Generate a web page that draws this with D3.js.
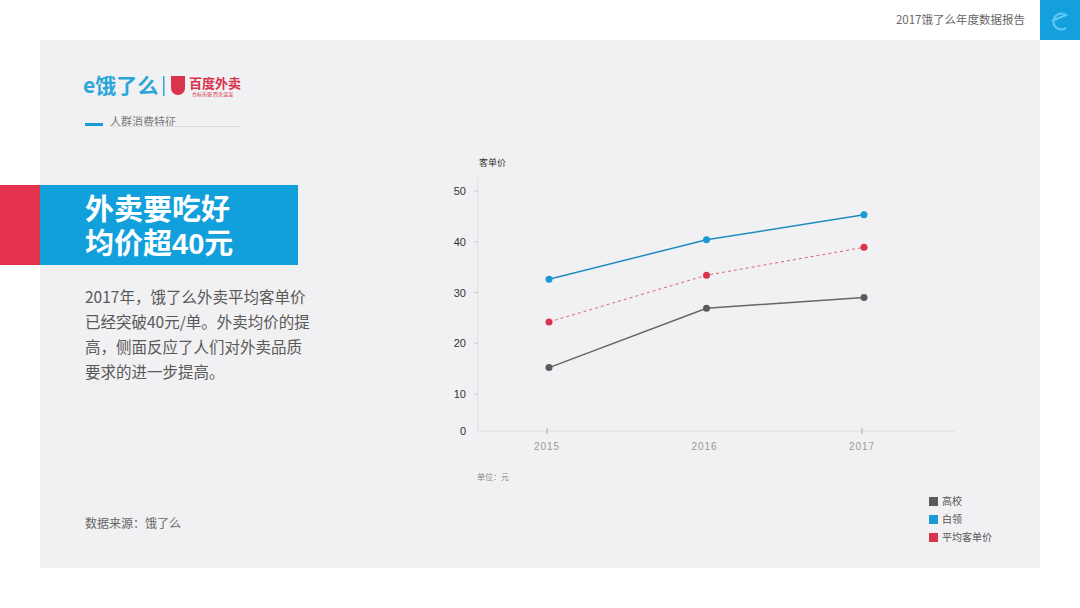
<!DOCTYPE html>
<html><head><meta charset="utf-8">
<script src="https://cdn.jsdelivr.net/npm/d3@7"></script>
<style>body{margin:0;background:#fff;}svg{display:block;font-family:"Noto Sans CJK SC","Noto Sans",sans-serif;}</style>
</head><body><svg id="c" width="1080" height="608"></svg>
<script>
const years = ["2015","2016","2017"];
const seriesNames = ["高校","白领","平均客单价"];
const gaoxiao = [15.2, 26.9, 29.0];
const bailing = [32.6, 40.4, 45.3];
const average = [24.2, 33.4, 38.9];
const yTicks = [0,10,20,30,40,50];
const colors = ["#5b5b5f","#1a9ad6","#d9334e"];
const titleLines = ["外卖要吃好","均价超40元"];
const bodyLines = ["2017年，饿了么外卖平均客单价","已经突破40元/单。外卖均价的提","高，侧面反应了人们对外卖品质","要求的进一步提高。"];

const svg = d3.select("#c");
// background panel
svg.append("rect").attr("x",40).attr("y",40).attr("width",1000).attr("height",528).attr("fill","#f1f0f2");
// header
svg.append("text").attr("x",1025).attr("y",24).attr("text-anchor","end").attr("font-size",11.5).attr("fill","#666").text("2017饿了么年度数据报告");
svg.append("rect").attr("x",1040).attr("y",0).attr("width",40).attr("height",40).attr("fill","#14a0dc");
svg.append("path").attr("d","M1052,21 L1066,15 A8,8 0 1 0 1066,28").attr("fill","none").attr("stroke","#5cc8f5").attr("stroke-width",2.2);

// logos
svg.append("text").attr("x",83).attr("y",93).attr("font-size",21).attr("font-weight","bold").attr("fill","#2ba6d9").text("e饿了么");
svg.append("rect").attr("x",163).attr("y",76).attr("width",1.5).attr("height",20).attr("fill","#2ba6d9");
svg.append("path").attr("d","M171,76 h14 v12 a7,7 0 0 1 -14,0 z").attr("fill","#d9334e");
svg.append("text").attr("x",189).attr("y",88).attr("font-size",13).attr("font-weight","bold").attr("fill","#d9334e").text("百度外卖");
svg.append("text").attr("x",192).attr("y",96).attr("font-size",5).attr("fill","#d9334e").text("台标乐服 西全温温");
// section label
svg.append("rect").attr("x",85).attr("y",123).attr("width",18).attr("height",3).attr("fill","#1a9ad6");
svg.append("text").attr("x",110).attr("y",126).attr("font-size",11).attr("fill","#777").text("人群消费特征");
svg.append("line").attr("x1",110).attr("x2",240).attr("y1",126.5).attr("y2",126.5).attr("stroke","#ddd");

// title banner
svg.append("rect").attr("x",0).attr("y",185).attr("width",40).attr("height",80).attr("fill","#e5334f");
svg.append("rect").attr("x",40).attr("y",185).attr("width",258).attr("height",80).attr("fill","#12a0dc");
titleLines.forEach((t,i)=>svg.append("text").attr("x",85).attr("y",220+i*34)
  .attr("font-family","'Liberation Sans','Noto Sans CJK SC',sans-serif")
  .attr("font-size",29).attr("font-weight","bold").attr("fill","#fff").text(t));
bodyLines.forEach((t,i)=>svg.append("text").attr("x",85).attr("y",303+i*25).attr("font-size",15.5).attr("fill","#595959").text(t));
svg.append("text").attr("x",85).attr("y",528).attr("font-size",12).attr("fill","#666").text("数据来源：饿了么");

// chart
const x = d3.scalePoint().domain(years).range([549,864]);
const y = d3.scaleLinear().domain([0,10,50]).range([431,394,191]);
const g = svg.append("g");
g.append("line").attr("x1",478).attr("x2",955).attr("y1",431).attr("y2",431).attr("stroke","#ddd");
g.append("line").attr("x1",478).attr("x2",478).attr("y1",178).attr("y2",431).attr("stroke","#e2e2e2");
yTicks.forEach(v=>{
  g.append("text").attr("x",466).attr("y",y(v)+4).attr("text-anchor","end").attr("font-size",11).attr("fill","#333").attr("font-family","Liberation Sans, sans-serif").text(v);
  if(v>0) g.append("line").attr("x1",474).attr("x2",478).attr("y1",y(v)).attr("y2",y(v)).attr("stroke","#ccc");
});
years.forEach(yr=>{
  g.append("text").attr("x",x(yr)-2).attr("y",450).attr("text-anchor","middle").attr("font-size",10).attr("fill","#999").attr("letter-spacing",1).attr("font-family","Liberation Sans, sans-serif").text(yr);
});
["2015","2017"].forEach(yr=>g.append("line").attr("x1",x(yr)-2).attr("x2",x(yr)-2).attr("y1",428).attr("y2",434).attr("stroke","#aaa"));
g.append("text").attr("x",479).attr("y",166).attr("font-size",9).attr("fill","#333").text("客单价");
g.append("text").attr("x",477).attr("y",480).attr("font-size",8).attr("fill","#888").text("单位：元");

const data = [gaoxiao, bailing, average];
const line = d3.line().x((d,i)=>x(years[i])).y(d=>y(d));
data.forEach((vals,k)=>{
  g.append("path").attr("d",line(vals)).attr("fill","none")
    .attr("stroke", k===2 ? "#d9667c" : (k===1 ? "#1f8cc0" : "#666"))
    .attr("stroke-width", k===2 ? 1 : 1.5)
    .attr("stroke-dasharray", k===2 ? "3,3" : null);
  vals.forEach((v,i)=>g.append("circle").attr("cx",x(years[i])).attr("cy",y(v)).attr("r",3.5).attr("fill",colors[k]));
});
// legend
seriesNames.forEach((n,i)=>{
  svg.append("rect").attr("x",929).attr("y",497+i*18).attr("width",9).attr("height",9).attr("fill",colors[i]);
  svg.append("text").attr("x",942).attr("y",505+i*18).attr("font-size",10).attr("fill","#555").text(n);
});
</script></body></html>
